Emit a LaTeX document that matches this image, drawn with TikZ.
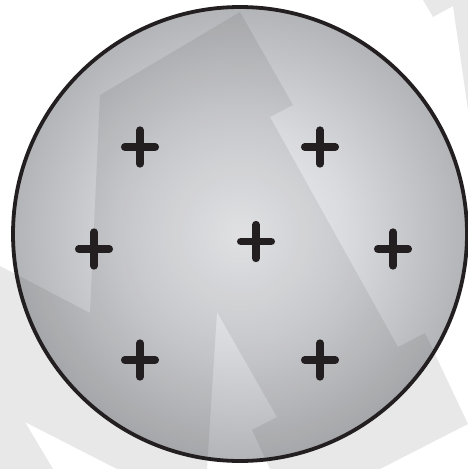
\documentclass[tikz,border=0pt]{standalone}
\definecolor{ink}{HTML}{231F20}
\definecolor{bgray}{HTML}{E8E8E8}
\definecolor{cA}{HTML}{F2F3F5}
\definecolor{cB}{HTML}{D9DADE}
\definecolor{cC}{HTML}{B3B4B7}
\pgfdeclareradialshading{ballgrad}{\pgfpoint{0bp}{0bp}}{color(0bp)=(cA); color(12bp)=(cB); color(25bp)=(cC); color(50bp)=(cC)}
\tikzset{
  dpath/.style={insert path={(240,12) -- (293,105) -- (270,117) -- (398,347) -- (425,333) -- (468,424) -- (380,469) -- (270,469) -- (252,430) -- (277,417) -- (217,312) -- (207,469) -- (117,469) -- (25,422) -- (53,469) -- (0,469) -- (0,266) -- (90,313) -- (100,95) -- cycle}},
  cornerpath/.style={insert path={(423,0) -- (433,17) -- (453,6) -- (468,110) -- (468,0) -- cycle}},
  plusmark/.style={draw=ink, line width=7.7pt, line cap=round},
  rim/.style={draw=ink, line width=3.8pt}
}
\begin{document}
\begin{tikzpicture}[x=1pt,y=-1pt]
\useasboundingbox (0,0) rectangle (468,469);
\fill[white] (0,0) rectangle (468,469);
\path[fill=bgray, dpath];
\path[fill=bgray, cornerpath];
\coordinate (C) at (240,234);
\shade[shading=ballgrad] (C) circle[radius=227];
\begin{scope}
  \clip (C) circle[radius=227];
  \path[fill=black, fill opacity=0.075, dpath];
\end{scope}
\draw[rim] (C) circle[radius=227];
\coordinate (p1) at (140,147);
\coordinate (p2) at (320,147);
\coordinate (p3) at (94,249);
\coordinate (p4) at (256,241.5);
\coordinate (p5) at (393,249);
\coordinate (p6) at (140,360);
\coordinate (p7) at (320,360);
\foreach \p in {p1,p2,p3,p4,p5,p6,p7}{
  \draw[plusmark] ([xshift=-15.2pt]\p) -- ([xshift=15.2pt]\p)
                  ([yshift=-16.8pt]\p) -- ([yshift=16.8pt]\p);
}
\end{tikzpicture}
\end{document}
